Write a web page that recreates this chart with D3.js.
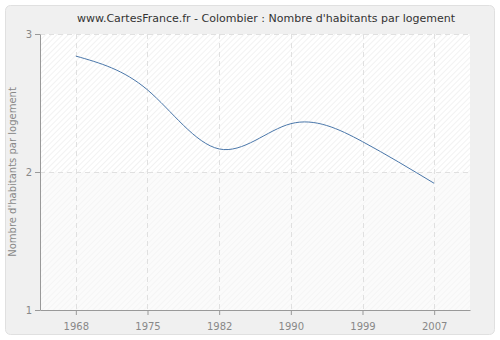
<!DOCTYPE html>
<html>
<head>
<meta charset="utf-8">
<script src="https://cdn.jsdelivr.net/npm/d3@7"></script>
<style>
  body { margin: 0; background: #fff; }
  text { font-family: "DejaVu Sans", sans-serif; }
</style>
</head>
<body>
<script>
var years = ["1968", "1975", "1982", "1990", "1999", "2007"];
var values = [2.84, 2.595, 2.167, 2.35, 2.22, 1.918];
var yTicks = [1, 2, 3];

var margin = {top: 34, right: 30, bottom: 30, left: 40};
var width = 500 - margin.left - margin.right;
var height = 340 - margin.top - margin.bottom;

var svg = d3.select("body").append("svg")
    .attr("width", 500)
    .attr("height", 340);

var defs = svg.append("defs");
var pat = defs.append("pattern")
    .attr("id", "hatch")
    .attr("width", 4).attr("height", 4)
    .attr("patternUnits", "userSpaceOnUse")
    .attr("patternTransform", "rotate(45)");
pat.append("rect").attr("width", 4).attr("height", 4).attr("fill", "#ffffff");
pat.append("line").attr("x1", 0).attr("y1", 0).attr("x2", 0).attr("y2", 4)
    .attr("stroke", "#e6e6e6").attr("stroke-width", 1);

var pat2 = defs.append("pattern")
    .attr("id", "hatch2")
    .attr("width", 4).attr("height", 4)
    .attr("patternUnits", "userSpaceOnUse")
    .attr("patternTransform", "rotate(45)");
pat2.append("rect").attr("width", 4).attr("height", 4).attr("fill", "#fbfbfb");
pat2.append("line").attr("x1", 0).attr("y1", 0).attr("x2", 0).attr("y2", 4)
    .attr("stroke", "#efefef").attr("stroke-width", 1);

// outer panel
svg.append("rect")
    .attr("x", 5.5).attr("y", 5.5)
    .attr("width", 489).attr("height", 329)
    .attr("rx", 5)
    .attr("fill", "#f0f0f0")
    .attr("stroke", "#e0e0e0");

svg.append("text")
    .attr("x", 266).attr("y", 22)
    .attr("text-anchor", "middle")
    .attr("font-size", 11)
    .attr("fill", "#333")
    .text("www.CartesFrance.fr - Colombier : Nombre d'habitants par logement");

var g = svg.append("g")
    .attr("transform", "translate(" + margin.left + "," + margin.top + ")");

var xScale = d3.scalePoint().domain(years).range([0, width]).padding(0.5);
var yScale = d3.scaleLinear().domain([1, 3]).range([height, 0]);

// plot background bands
g.append("rect")
    .attr("x", 0).attr("y", yScale(3))
    .attr("width", width).attr("height", yScale(2) - yScale(3))
    .attr("fill", "url(#hatch)");
g.append("rect")
    .attr("x", 0).attr("y", yScale(2))
    .attr("width", width).attr("height", yScale(1) - yScale(2))
    .attr("fill", "url(#hatch2)");

// grid
g.selectAll(".vgrid")
    .data(years)
    .enter().append("line")
    .attr("x1", function(d) { return Math.round(xScale(d)) + 0.5; })
    .attr("x2", function(d) { return Math.round(xScale(d)) + 0.5; })
    .attr("y1", 0).attr("y2", height)
    .attr("stroke", "#e0e0e0")
    .attr("stroke-dasharray", "5,4");

g.selectAll(".hgrid")
    .data(yTicks.slice(1))
    .enter().append("line")
    .attr("x1", 0).attr("x2", width)
    .attr("y1", function(d) { return Math.round(yScale(d)) + 0.5; })
    .attr("y2", function(d) { return Math.round(yScale(d)) + 0.5; })
    .attr("stroke", "#e0e0e0")
    .attr("stroke-dasharray", "5,4");

// line
var line = d3.line()
    .x(function(d, i) { return xScale(years[i]); })
    .y(function(d) { return yScale(d); })
    .curve(d3.curveNatural);

g.append("path")
    .datum(values)
    .attr("d", line)
    .attr("fill", "none")
    .attr("stroke", "#4a77aa")
    .attr("stroke-width", 1);

// axes
var xAxis = d3.axisBottom(xScale).tickSize(5).tickSizeOuter(0);
var yAxis = d3.axisLeft(yScale).tickValues(yTicks).tickFormat(d3.format("d"))
    .tickSize(5).tickSizeOuter(0);

var gx = g.append("g")
    .attr("transform", "translate(0," + height + ")")
    .call(xAxis);
var gy = g.append("g").call(yAxis);

[gx, gy].forEach(function(a) {
    a.select(".domain").attr("stroke", "#999");
    a.selectAll(".tick line").attr("stroke", "#999");
    a.selectAll(".tick text")
        .attr("fill", "#888")
        .attr("font-size", 10)
        .attr("font-family", "DejaVu Sans, sans-serif");
});
gx.selectAll(".tick text").attr("dy", "1.2em");

svg.append("text")
    .attr("transform", "translate(16," + (margin.top + height / 2) + ") rotate(-90)")
    .attr("text-anchor", "middle")
    .attr("font-size", 10)
    .attr("fill", "#888")
    .text("Nombre d'habitants par logement");
</script>
</body>
</html>
